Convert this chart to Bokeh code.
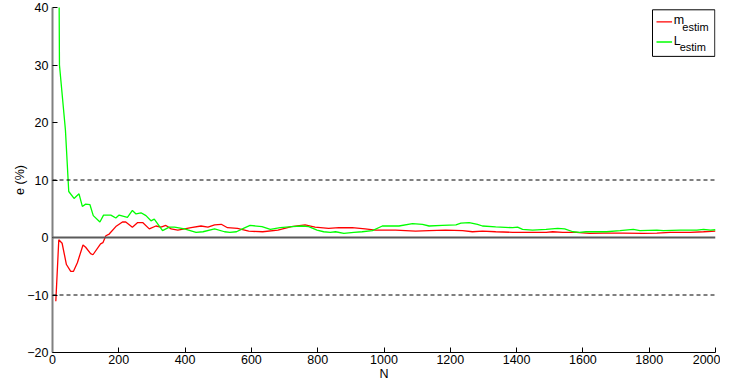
from bokeh.plotting import figure
from bokeh.models import FixedTicker, Span, Range1d
from bokeh.core.properties import value
from bokeh.embed import file_html
from bokeh.resources import INLINE

# ---- data ----
red_x = [10, 19, 29, 42, 55, 63, 75, 92, 100, 115, 122, 145, 152, 161, 171, 191, 211, 221, 241, 257,
         272, 292, 312, 327, 342, 358, 378, 398, 418, 448, 469, 489, 509, 528, 558, 592, 634, 680, 721, 762,
         792, 833, 864, 904, 943, 974, 1035, 1095, 1136, 1186, 1237, 1267, 1297, 1337, 1388, 1438, 1489, 1509, 1539, 1580,
         1620, 1661, 1722, 1782, 1823, 1863, 1924, 1964, 2000]
red_y = [-11.1, -0.4, -1.0, -4.7, -5.9, -5.9, -4.4, -1.3, -1.7, -2.8, -3.0, -1.1, -0.9, 0.3, 0.6, 1.9, 2.7, 2.7, 1.8, 2.6,
         2.6, 1.5, 2.0, 1.8, 2.1, 1.5, 1.3, 1.5, 1.7, 2.0, 1.8, 2.2, 2.3, 1.7, 1.6, 1.1, 1.0, 1.3, 1.9, 2.2,
         1.8, 1.6, 1.7, 1.7, 1.5, 1.3, 1.3, 1.1, 1.2, 1.3, 1.2, 1.0, 1.1, 1.0, 0.9, 0.9, 0.9, 1.0, 0.9, 0.9,
         0.7, 0.75, 0.75, 0.7, 0.75, 0.9, 0.9, 1.0, 1.1]

green_x = [10, 21, 39, 49, 65, 80, 90, 100, 113, 123, 143, 154, 176, 191, 201, 226, 241, 252, 267, 282,
           297, 307, 332, 352, 368, 398, 433, 454, 489, 519, 535, 555, 576, 596, 632, 657, 687, 722, 753, 773,
           798, 818, 838, 854, 879, 909, 934, 965, 995, 1045, 1086, 1116, 1136, 1176, 1217, 1232, 1257, 1282, 1297, 1337,
           1388, 1403, 1418, 1448, 1489, 1524, 1545, 1570, 1590, 1610, 1641, 1671, 1712, 1752, 1772, 1823, 1843, 1894, 1944, 1964,
           1985, 2000]
green_y = [150, 30, 18.7, 8.0, 6.8, 7.6, 5.4, 5.8, 5.7, 3.8, 2.7, 3.9, 3.9, 3.4, 3.9, 3.5, 4.7, 4.1, 4.3, 3.8,
           2.9, 3.2, 1.2, 1.8, 1.8, 1.5, 0.9, 1.0, 1.5, 1.0, 0.9, 1.0, 1.6, 2.1, 1.9, 1.4, 1.7, 1.9, 2.0, 1.9,
           1.3, 1.0, 0.9, 1.0, 0.7, 0.9, 1.0, 1.2, 2.0, 2.0, 2.4, 2.3, 2.0, 2.1, 2.2, 2.5, 2.6, 2.3, 2.0, 1.85,
           1.7, 1.8, 1.4, 1.3, 1.4, 1.6, 1.5, 1.0, 0.9, 1.0, 1.0, 1.0, 1.2, 1.4, 1.2, 1.3, 1.2, 1.3, 1.3, 1.4,
           1.3, 1.35]

x_ticks = [0, 200, 400, 600, 800, 1000, 1200, 1400, 1600, 1800, 2000]
y_ticks = [-20, -10, 0, 10, 20, 30, 40]
y_tick_labels = {-20: "\u221220", -10: "\u221210"}
ref_levels = [-10, 10]
legend_labels = [("m", "estim"), ("L", "estim")]
FONT = "Liberation Sans"

p = figure(frame_width=663, frame_height=345, output_backend="svg", toolbar_location=None,
           x_range=Range1d(0, 2000), y_range=Range1d(-20, 40))
p.styles = {"position": "relative", "top": "-8px", "left": "10px"}
p.outline_line_color = None
p.grid.visible = False
p.background_fill_color = "white"

# near-invisible title used only as a spacer above the frame (keeps the "40" label uncut)
p.title.text = " "
p.title.text_font_size = "1px"
p.title.standoff = 12
p.title.offset = 0

# reference lines
p.add_layout(Span(location=0, dimension="width", line_color="#5a5a5a", line_width=1.8))
for lv in ref_levels:
    p.add_layout(Span(location=lv, dimension="width", line_color="black", line_width=1, line_dash="4 3"))

p.line(red_x, red_y, line_color="#ff0000", line_width=1.3)
p.line(green_x, green_y, line_color="#00ff00", line_width=1.3)

# axes
xa = p.below[0]
ya = p.left[0]
for ax in (xa, ya):
    ax.major_tick_in = 5
    ax.major_tick_out = 0
    ax.minor_tick_line_color = None
    ax.major_tick_line_color = "black"
    ax.major_label_text_font = FONT
    ax.major_label_text_font_size = "12.5px"
    ax.major_label_text_color = "black"
    ax.axis_label_text_font = FONT
    ax.axis_label_text_font_size = "12.5px"
    ax.axis_label_text_font_style = "normal"
    ax.axis_label_text_color = "black"

xa.ticker = FixedTicker(ticks=x_ticks)
ya.ticker = FixedTicker(ticks=y_ticks)
ya.major_label_overrides = y_tick_labels
xa.axis_label = "N"
ya.axis_label = "e (%)"
xa.axis_line_color = "black"
xa.axis_line_width = 1
ya.axis_line_color = "#808080"
ya.axis_line_width = 2
xa.major_label_standoff = 2
xa.axis_label_standoff = 0
ya.major_label_standoff = 4
ya.axis_label_standoff = -3

# legend (drawn by hand to allow subscripts)
LX0, LX1, LY0, LY1 = 1810, 1998, 31.5, 39.6
p.quad(left=[LX0], right=[LX1], bottom=[LY0], top=[LY1], fill_color="white",
       line_color="black", line_width=1)
leg_colors = ["#ff0000", "#00ff00"]
leg_line_y = [37.5, 34.0]
for (main, sub), col, ly in zip(legend_labels, leg_colors, leg_line_y):
    p.line([1822, 1869], [ly, ly], line_color=col, line_width=1.3)
    p.text(x=[1874], y=[ly + 0.25], text=[main], text_font=value(FONT), text_font_size="12.5px",
           text_baseline="alphabetic", text_color="black")
    p.text(x=[1874 + (26 if main == "m" else 18)], y=[ly - 0.9], text=[sub], text_font=value(FONT),
           text_font_size="11px", text_baseline="alphabetic", text_color="black")

open("out.html", "w").write(file_html(p, INLINE))
